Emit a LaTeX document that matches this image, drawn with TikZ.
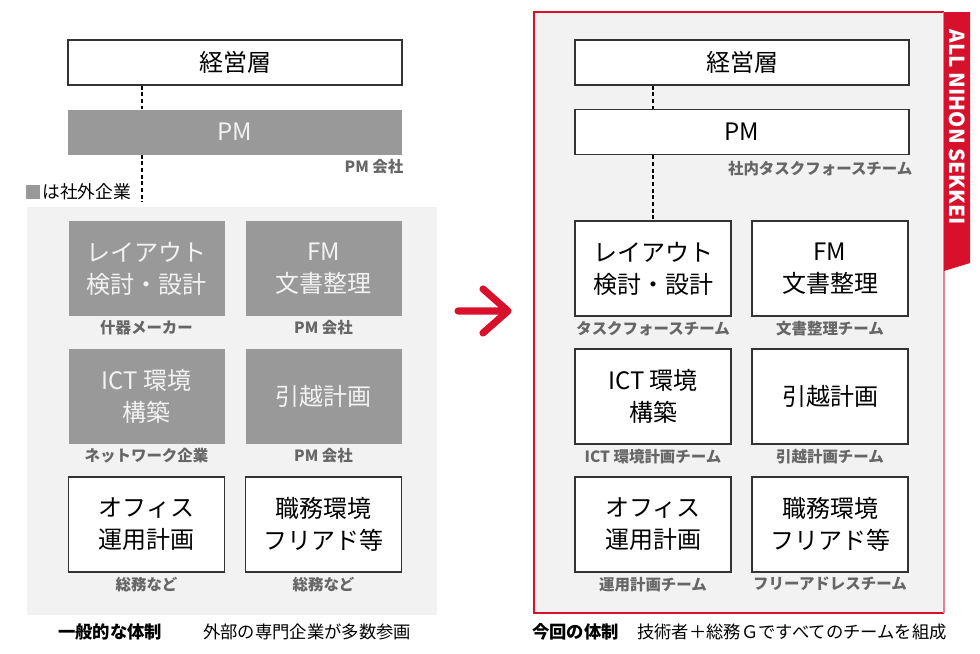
\documentclass[tikz,border=0pt]{standalone}
\usepackage{fontspec}
\setmainfont{Noto Sans CJK JP}
\usetikzlibrary{positioning}
\definecolor{nsred}{HTML}{D7102B}
\definecolor{nspink}{HTML}{E8808F}
\definecolor{boxgray}{HTML}{999999}
\definecolor{panelgray}{HTML}{F2F2F2}
\definecolor{lblgray}{HTML}{666666}
\definecolor{linegray}{HTML}{333333}

\begin{document}
\begin{tikzpicture}[x=0.75pt,y=-0.75pt,line cap=butt,
    cell/.style={minimum width=117pt,minimum height=71.25pt,inner sep=0pt,align=center,
      font=\fontsize{18}{24}\selectfont},
    wide/.style={minimum width=250.5pt,minimum height=33.75pt,inner sep=0pt,
      font=\fontsize{18}{24}\selectfont},
    inbox/.style={draw=linegray,line width=1.2pt,fill=white,text=black},
    outbox/.style={fill=boxgray,text=panelgray},
    lbl/.style={text=lblgray,font=\bfseries\fontsize{11.6}{13}\selectfont,inner sep=1pt},
    caption/.style={anchor=west,inner sep=0pt,font=\fontsize{13}{15}\selectfont},
    link/.style={dash pattern=on 3pt off 2pt,line width=0.9pt,color=black}]
    \useasboundingbox (0,0) rectangle (980,653);
    % panels
    \fill[panelgray] (27,207) rectangle (437,615);
    \fill[panelgray] (534,12) rectangle (944,613);
    \draw[nsred,line width=1pt] (944,613) -- (534,613) -- (534,12) -- (944,12);
    \draw[nspink,line width=1pt] (944,12) -- (944,613);
    \fill[nsred] (944,12) -- (970,12) -- (970,263) -- (944,271) -- cycle;
    \node[rotate=-90,text=white,font=\bfseries\fontsize{15.5}{17}\selectfont] (brand) at (957,127) {ALL NIHON SEKKEI};
    % left: general structure
    \node[wide,inbox] (Ltop) at (235,62.5) {経営層};
    \node[wide,outbox] (Lpm) at (235,132) {PM};
    \node[lbl,anchor=north east] (Lpmlbl) at (405,158) {PM 会社};
    \coordinate (Lx) at (142,0);
    \coordinate (Lend) at (142,202);
    \draw[link] (Ltop.south -| Lx) -- (Lpm.north -| Lx);
    \draw[link] (Lpm.south -| Lx) -- (Lend);
    \fill[boxgray] (26,185) rectangle (40,199);
    \node[anchor=west,inner sep=0pt,font=\fontsize{13.3}{15}\selectfont] (legend) at (42,192) {は社外企業};
    \foreach \n/\x/\y/\s/\t/\l in {
        LA/146.5/268.5/outbox/{レイアウト\\検討・設計}/什器メーカー,
        LB/323.5/268.5/outbox/{FM\\文書整理}/PM 会社,
        LC/146.5/396.5/outbox/{ICT 環境\\構築}/ネットワーク企業,
        LD/323.5/396.5/outbox/{引越計画}/PM 会社,
        LE/146.5/524.5/inbox/{オフィス\\運用計画}/総務など,
        LF/323.5/524.5/inbox/{職務環境\\フリアド等}/総務など} {
        \node[cell,\s] (\n) at (\x,\y) {\t};
        \node[lbl,below=2pt] (\n lbl) at (\n.south) {\l};
    }
    \node[caption,font=\bfseries\fontsize{13}{15}\selectfont] (Lcap) at (58,632) {一般的な体制};
    \node[caption] (Lnote) at (203,632) {外部の専門企業が多数参画};
    % arrow
    \coordinate (arrA) at (458,311);
    \coordinate (arrB) at (508,311);
    \draw[nsred,line width=5.3pt,line cap=round,line join=round]
        (arrA) -- (arrB) (483,289) -- (arrB) -- (483,333);
    % right: this project
    \node[wide,inbox] (Rtop) at (742,62.5) {経営層};
    \node[wide,inbox] (Rpm) at (742,132) {PM};
    \node[lbl,anchor=north east] (Rpmlbl) at (914,160) {社内タスクフォースチーム};
    \foreach \n/\x/\y/\t/\l in {
        RA/653/268.5/{レイアウト\\検討・設計}/タスクフォースチーム,
        RB/830/268.5/{FM\\文書整理}/文書整理チーム,
        RC/653/396.5/{ICT 環境\\構築}/ICT 環境計画チーム,
        RD/830/396.5/{引越計画}/引越計画チーム,
        RE/653/524.5/{オフィス\\運用計画}/運用計画チーム,
        RF/830/524.5/{職務環境\\フリアド等}/フリーアドレスチーム} {
        \node[cell,inbox] (\n) at (\x,\y) {\t};
        \node[lbl,below=2pt] (\n lbl) at (\n.south) {\l};
    }
    \draw[link] (Rtop.south -| RA.north) -- (Rpm.north -| RA.north);
    \draw[link] (Rpm.south -| RA.north) -- (RA.north);
    \node[caption,font=\bfseries\fontsize{13}{15}\selectfont] (Rcap) at (532,632) {今回の体制};
    \node[caption] (Rnote) at (637,632) {技術者＋総務Ｇですべてのチームを組成};
\end{tikzpicture}
\end{document}
